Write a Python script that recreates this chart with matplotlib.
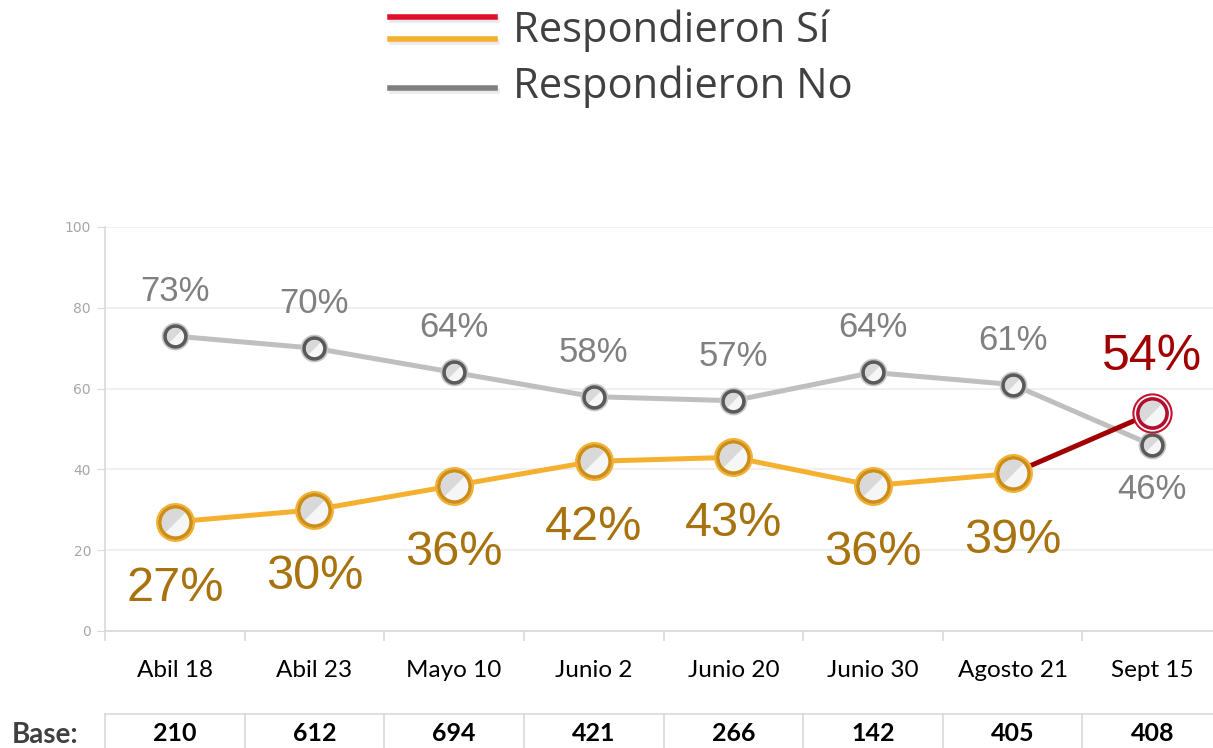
import matplotlib.pyplot as plt
from matplotlib.lines import Line2D
from matplotlib.markers import MarkerStyle
from matplotlib.transforms import Affine2D

# ----- data -----
fechas = ["Abil 18", "Abil 23", "Mayo 10", "Junio 2", "Junio 20", "Junio 30", "Agosto 21", "Sept 15"]
resp_no = [73, 70, 64, 58, 57, 64, 61, 46]
resp_si = [27, 30, 36, 42, 43, 36, 39, 54]
base = [210, 612, 694, 421, 266, 142, 405, 408]

GRAY = "#BFBFBF"
ORANGE = "#F4B02E"
RED = "#A00000"

W, H = 1213, 748
fig = plt.figure(figsize=(W / 100, H / 100), dpi=100)
ax = fig.add_axes([105 / W, (H - 631) / H, (W - 105) / W, (631 - 227) / H])

x = list(range(len(fechas)))
half = MarkerStyle("o", fillstyle="top", transform=Affine2D().rotate_deg(45))

def marcadores(xs, ys, edge, ring, size, ring_size):
    # anillo exterior, circulo claro y sombreado diagonal
    ax.plot(xs, ys, ls="none", marker="o", ms=ring_size, mfc="white", mec=ring, mew=1.5, zorder=4)
    ax.plot(xs, ys, ls="none", marker="o", ms=size, mfc="#F6F6F6", mec=edge, mew=2.6, zorder=5)
    ax.plot(xs, ys, ls="none", marker=half, ms=size - 2.6, mfc="#D2D2D2", mfcalt="none",
            mew=0, alpha=0.8, zorder=6)

# ----- lines -----
ax.plot(x, resp_no, color=GRAY, lw=3.6, zorder=3)
ax.plot(x[:7], resp_si[:7], color=ORANGE, lw=3.6, zorder=3)
ax.plot(x[6:], resp_si[6:], color=RED, lw=3.6, zorder=3)

marcadores(x, resp_no, "#5A5A5A", "#C8C8C8", 15, 18.5)
marcadores(x[:7], resp_si[:7], "#CC8E18", ORANGE, 22.5, 26.5)
marcadores(x[7:], resp_si[7:], "#B01030", "#C8102E", 21, 27.5)

# ----- data labels -----
for xi, v in zip(x, resp_no):
    dy = -32 if xi == 7 else 32
    ax.annotate(f"{v}%", (xi, v), xytext=(0, dy), textcoords="offset points",
                ha="center", va="center", fontsize=25, color="#808080",
                family="Liberation Sans")
for xi, v in zip(x[:7], resp_si[:7]):
    ax.annotate(f"{v}%", (xi, v), xytext=(0, -48), textcoords="offset points",
                ha="center", va="center", fontsize=35, color="#A8720E",
                family="Liberation Sans")
ax.annotate(f"{resp_si[7]}%", (x[7], resp_si[7]), xytext=(0, 40), textcoords="offset points",
            ha="center", va="center", fontsize=36, color=RED, family="Liberation Sans")

# ----- axes -----
ax.set_ylim(0, 100)
ax.set_xlim(-0.5, 7.435)
ax.set_yticks([0, 20, 40, 60, 80, 100])
ax.tick_params(axis="y", length=6, color="#D9D9D9", labelsize=10, labelcolor="#A6A6A6", pad=4)
ax.grid(axis="y", color="#EEEEEE", lw=1.2)
ax.set_axisbelow(True)
for s in ["top", "right"]:
    ax.spines[s].set_visible(False)
for s in ["left", "bottom"]:
    ax.spines[s].set_color("#D9D9D9")
    ax.spines[s].set_linewidth(1.2)

ax.set_xticks([i - 0.5 for i in range(len(fechas))])
ax.set_xticklabels([])
ax.tick_params(axis="x", which="major", length=7, color="#D9D9D9", width=1.2)
ax.set_xticks(x, minor=True)
ax.set_xticklabels(fechas, minor=True, fontsize=17.5, family="Lato", color="black")
ax.tick_params(axis="x", which="minor", length=0, pad=21)

# ----- base table -----
tr = ax.get_xaxis_transform()
ax.plot([-0.5, 7.5], [-0.205, -0.205], color="#D9D9D9", lw=1.2, transform=tr, clip_on=False)
for i in range(len(fechas)):
    ax.plot([i - 0.5, i - 0.5], [-0.205, -0.30], color="#D9D9D9", lw=1.2, transform=tr, clip_on=False)
    ax.text(i, -0.254, str(base[i]), transform=tr, ha="center", va="center",
            fontsize=18, fontweight="bold", family="Lato", color="black")
ax.text(-0.93, -0.258, "Base:", transform=tr, ha="center", va="center",
        fontsize=20, fontweight="bold", family="Lato", color="#404040")

# ----- legend -----
def leg_line(y, c):
    fig.add_artist(Line2D([392 / W, 497 / W], [(H - y - 3) / H] * 2, color="#DDDDDD",
                          lw=4, transform=fig.transFigure, alpha=0.6))
    fig.add_artist(Line2D([390 / W, 495 / W], [(H - y) / H] * 2, color=c, lw=4,
                          transform=fig.transFigure))

leg_line(17, "#E0102A")
leg_line(39, "#F4B02E")
leg_line(88, "#7F7F7F")
fig.text(513 / W, (H - 31) / H, "Respondieron Sí", fontsize=30, family="Open Sans",
         color="#404040", va="center", ha="left")
fig.text(513 / W, (H - 87) / H, "Respondieron No", fontsize=30, family="Open Sans",
         color="#404040", va="center", ha="left")

fig.savefig("out.png", dpi=100)
